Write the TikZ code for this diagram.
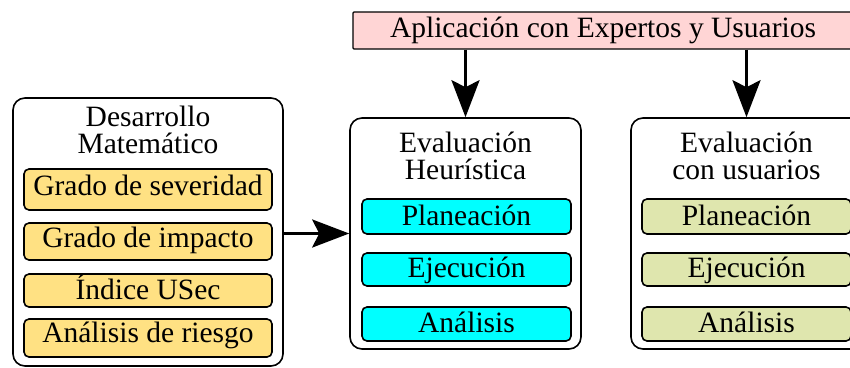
\documentclass[tikz,border=0pt]{standalone}
\usepackage{fontspec}
\setmainfont{Liberation Serif}
\usetikzlibrary{arrows.meta}
\definecolor{pinkfill}{HTML}{FFD5D5}
\definecolor{yellowfill}{HTML}{FFE183}
\definecolor{cyanfill}{HTML}{00FFFF}
\definecolor{greenfill}{HTML}{DFE6AE}
\begin{document}
\begin{tikzpicture}[x=1pt,y=-1pt,
  font=\fontsize{29.5}{27}\selectfont,
  bigbox/.style={draw, line width=1.6pt, rounded corners=12pt, inner sep=0pt},
  smallbox/.style={draw, line width=1.6pt, rounded corners=5pt, inner sep=0pt, text depth=6pt},
  topbox/.style={draw, line width=1.4pt, rounded corners=1pt, inner sep=0pt, fill=pinkfill, text height=20pt, text depth=6pt},
  title/.style={anchor=base, inner sep=0pt, align=center},
  arr/.style={line width=3pt, -{Stealth[length=37pt,width=28pt,inset=7pt]}}
]
\useasboundingbox (0,0) rectangle (850,367);

% top box
\node[topbox, minimum width=500pt, minimum height=37pt] (P) at (603,30.5) {Aplicación con Expertos y Usuarios};

% left box
\node[bigbox, minimum width=270pt, minimum height=268pt] (L) at (148,232) {};
\node[title] (LT) at (148,153) {Desarrollo\\Matemático};
\node[smallbox, fill=yellowfill, minimum width=248pt, minimum height=41pt, text height=17pt] (Y1) at (148,189.5) {Grado de severidad};
\node[smallbox, fill=yellowfill, minimum width=248pt, minimum height=37pt, text height=17pt] (Y2) at (148,241.5) {Grado de impacto};
\node[smallbox, fill=yellowfill, minimum width=248pt, minimum height=33pt, text height=23pt] (Y3) at (148,290.5) {Índice USec};
\node[smallbox, fill=yellowfill, minimum width=248pt, minimum height=38pt, text height=14pt] (Y4) at (148,338) {Análisis de riesgo};

% middle box
\node[bigbox, minimum width=231pt, minimum height=231pt] (M) at (465.5,233.5) {};
\node[title] (MT) at (465.5,179.5) {Evaluación\\Heurística};
\node[smallbox, fill=cyanfill, minimum width=209pt, minimum height=35pt, text height=23pt] (C1) at (466.5,216.5) {Planeación};
\node[smallbox, fill=cyanfill, minimum width=209pt, minimum height=33pt, text height=21pt] (C2) at (466.5,269.5) {Ejecución};
\node[smallbox, fill=cyanfill, minimum width=209pt, minimum height=34pt, text height=22pt] (C3) at (466.5,324) {Análisis};

% right box
\node[bigbox, minimum width=231pt, minimum height=231pt] (R) at (746.5,233.5) {};
\node[title] (RT) at (746.5,179.5) {Evaluación\\con usuarios};
\node[smallbox, fill=greenfill, minimum width=209pt, minimum height=35pt, text height=23pt] (G1) at (746.5,216.5) {Planeación};
\node[smallbox, fill=greenfill, minimum width=209pt, minimum height=33pt, text height=21pt] (G2) at (746.5,269.5) {Ejecución};
\node[smallbox, fill=greenfill, minimum width=209pt, minimum height=34pt, text height=22pt] (G3) at (746.5,324) {Análisis};

% connectors
\draw[arr] (M.north |- P.south) -- (M.north);
\draw[arr] (R.north |- P.south) -- (R.north);
\draw[arr] (L.east |- M.west) -- (M.west);
\end{tikzpicture}
\end{document}
